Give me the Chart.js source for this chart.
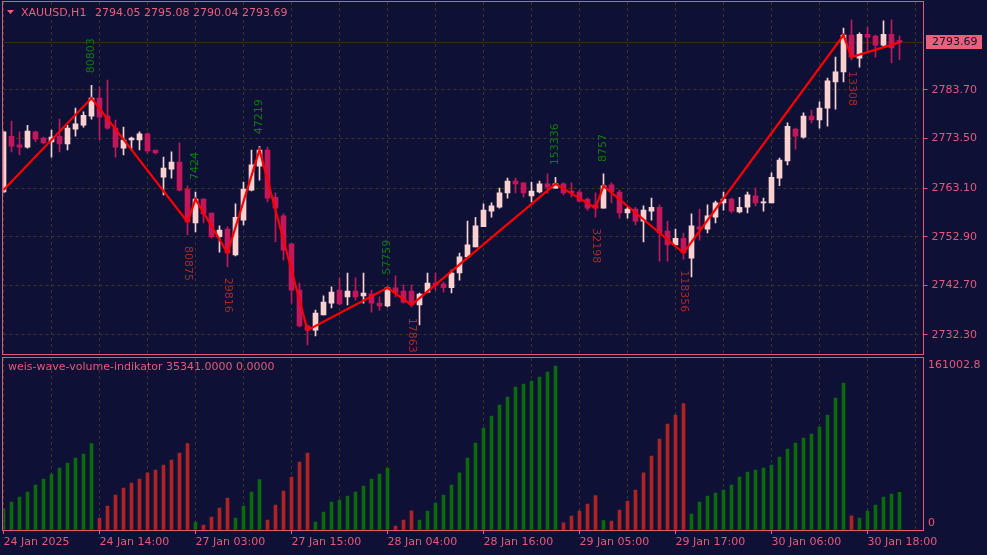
<!DOCTYPE html>
<html>
<head>
<meta charset="utf-8">
<script src="https://cdn.jsdelivr.net/npm/chart.js@4.4.1/dist/chart.umd.min.js"></script>
<style>
  html, body { margin: 0; padding: 0; background: #0e1036; overflow: hidden; }
  #graficoPreco { position: absolute; left: 0; top: 0; }
  #graficoVolume { position: absolute; left: 0; top: 356px; }
</style>
</head>
<body>
<canvas id="graficoPreco" width="987" height="356"></canvas>
<canvas id="graficoVolume" width="987" height="199"></canvas>
<script>
const simbolo = "XAUUSD,H1";
const rotulosTempo = ["24 Jan 2025", "24 Jan 14:00", "27 Jan 03:00", "27 Jan 15:00", "28 Jan 04:00",
    "28 Jan 16:00", "29 Jan 05:00", "29 Jan 17:00", "30 Jan 06:00", "30 Jan 18:00"];
const ticksPreco = [2783.70, 2773.50, 2763.10, 2752.90, 2742.70, 2732.30];
const precoMin = 2728.31, precoMax = 2802.16;
const volumeMax = 161002.8;

const abertura = [
    2762.3, 2774.0, 2772.2, 2771.7, 2774.9, 2773.6, 2772.8, 2774.0, 2772.4, 2775.5,
    2776.3, 2778.2, 2782.0, 2778.2, 2775.7, 2771.5, 2773.2, 2773.2, 2774.5, 2771.1,
    2765.4, 2767.1, 2768.6, 2762.9, 2755.8, 2760.8, 2757.9, 2752.9, 2754.5, 2749.1,
    2756.4, 2762.7, 2767.7, 2771.1, 2761.2, 2757.3, 2751.4, 2741.7, 2734.2, 2733.3,
    2736.5, 2739.0, 2741.7, 2740.3, 2741.5, 2740.5, 2740.9, 2739.0, 2738.4, 2742.2,
    2741.5, 2741.5, 2738.6, 2741.3, 2743.2, 2743.0, 2742.2, 2745.3, 2748.7, 2750.8,
    2755.0, 2758.3, 2759.1, 2762.1, 2764.6, 2764.2, 2761.5, 2762.3, 2764.0, 2763.1,
    2764.0, 2762.5, 2762.3, 2760.8, 2759.6, 2758.9, 2763.8, 2762.3, 2757.9, 2758.7,
    2756.2, 2758.3, 2759.1, 2754.1, 2751.2, 2752.6, 2748.4, 2755.0, 2754.5, 2757.0,
    2760.0, 2760.8, 2758.1, 2759.1, 2761.5, 2760.0, 2760.0, 2765.2, 2768.8, 2775.5,
    2773.8, 2778.2, 2777.4, 2779.9, 2785.4, 2787.5, 2795.2, 2790.4, 2795.4, 2795.0,
    2793.1, 2795.4, 2794.05];
const maxima = [
    2775.1, 2777.2, 2774.9, 2776.3, 2775.1, 2773.8, 2775.3, 2777.6, 2776.3, 2779.9,
    2779.1, 2784.7, 2784.3, 2785.8, 2777.4, 2775.9, 2773.8, 2774.9, 2774.7, 2771.1,
    2769.6, 2770.7, 2772.6, 2763.6, 2762.3, 2760.9, 2757.9, 2755.2, 2755.0, 2759.8,
    2764.4, 2771.1, 2771.9, 2771.7, 2762.1, 2757.7, 2751.4, 2743.2, 2734.4, 2737.5,
    2740.5, 2742.4, 2744.3, 2745.3, 2744.3, 2745.3, 2741.7, 2740.3, 2742.4, 2744.7,
    2742.8, 2742.8, 2741.1, 2745.3, 2745.3, 2743.4, 2745.9, 2749.5, 2756.2, 2757.0,
    2759.8, 2760.0, 2763.1, 2765.2, 2765.2, 2764.2, 2764.4, 2764.6, 2766.1, 2765.4,
    2764.2, 2764.2, 2762.7, 2761.0, 2762.1, 2766.1, 2764.2, 2762.7, 2759.1, 2759.1,
    2759.4, 2761.0, 2759.6, 2756.2, 2754.5, 2753.7, 2757.7, 2758.7, 2759.6, 2760.4,
    2762.3, 2761.0, 2761.2, 2762.3, 2763.1, 2761.0, 2766.3, 2769.4, 2776.8, 2775.7,
    2778.9, 2779.5, 2781.2, 2786.2, 2790.6, 2796.7, 2798.4, 2795.7, 2796.9, 2795.2,
    2798.2, 2798.4, 2795.08];
const minima = [
    2762.1, 2770.7, 2770.1, 2771.5, 2772.8, 2772.4, 2769.6, 2770.7, 2771.1, 2774.0,
    2775.9, 2777.6, 2773.2, 2775.5, 2769.6, 2770.1, 2771.1, 2771.1, 2770.5, 2770.3,
    2761.7, 2765.2, 2762.5, 2753.3, 2753.9, 2755.8, 2752.6, 2749.7, 2746.6, 2748.9,
    2755.4, 2762.5, 2764.8, 2760.2, 2751.8, 2748.0, 2739.0, 2734.0, 2730.2, 2732.1,
    2736.5, 2738.0, 2738.6, 2738.6, 2739.6, 2739.0, 2737.1, 2737.5, 2738.2, 2740.3,
    2739.0, 2738.2, 2734.4, 2741.3, 2741.7, 2741.3, 2741.1, 2743.8, 2748.7, 2750.8,
    2755.0, 2757.0, 2758.9, 2761.0, 2762.1, 2761.2, 2760.2, 2762.1, 2762.1, 2763.1,
    2761.7, 2761.2, 2760.2, 2758.5, 2757.0, 2758.9, 2760.0, 2756.8, 2756.8, 2755.4,
    2751.8, 2756.4, 2747.8, 2747.8, 2751.2, 2748.2, 2744.5, 2752.2, 2753.7, 2755.8,
    2758.5, 2757.9, 2757.9, 2757.9, 2759.4, 2758.3, 2760.0, 2763.6, 2768.0, 2771.3,
    2773.6, 2776.8, 2775.7, 2776.1, 2779.7, 2785.4, 2790.0, 2788.5, 2791.5, 2790.6,
    2792.7, 2789.4, 2790.04];
const fechamento = [
    2774.9, 2771.9, 2771.7, 2775.1, 2773.4, 2772.6, 2773.8, 2772.4, 2775.7, 2776.6,
    2778.4, 2782.0, 2778.0, 2775.7, 2771.7, 2773.2, 2773.6, 2774.5, 2770.9, 2770.5,
    2767.3, 2768.6, 2762.7, 2756.0, 2760.8, 2757.7, 2752.9, 2754.3, 2749.5, 2757.0,
    2762.9, 2768.0, 2771.1, 2761.0, 2758.9, 2750.1, 2741.7, 2734.2, 2733.3, 2736.9,
    2739.2, 2741.3, 2738.8, 2741.5, 2740.3, 2741.1, 2739.0, 2738.4, 2742.2, 2741.1,
    2739.2, 2738.6, 2740.9, 2743.2, 2742.8, 2742.2, 2745.3, 2748.7, 2751.2, 2755.2,
    2758.5, 2759.4, 2762.1, 2764.6, 2764.0, 2762.1, 2762.5, 2764.0, 2763.3, 2764.0,
    2762.1, 2762.1, 2760.4, 2758.9, 2758.9, 2763.6, 2762.3, 2757.9, 2758.7, 2756.2,
    2758.5, 2759.1, 2753.7, 2751.2, 2752.6, 2749.5, 2755.2, 2754.5, 2757.3, 2760.0,
    2760.8, 2758.3, 2759.1, 2761.7, 2760.0, 2760.2, 2765.4, 2769.0, 2776.1, 2774.0,
    2778.2, 2777.4, 2779.9, 2785.6, 2787.5, 2795.2, 2790.6, 2795.4, 2794.8, 2793.1,
    2795.4, 2792.5, 2793.69];

const volumeOnda = [
    19700, 26200, 30900, 35600, 42100, 47700, 52400, 58000, 62700, 67400, 71100, 80803,
    11200, 22500, 32800, 39300, 44000, 47700, 53400, 56200, 60800, 65500, 72100, 80875,
    7424,
    4700, 12200, 20600, 29816,
    11200, 22500, 35600, 47219,
    9400, 23400, 36500, 49600, 63600, 72100,
    7500, 16800, 26200, 28100, 31800, 35600, 41200, 47700, 52400, 57759,
    3700, 9400, 17863,
    9400, 17800, 25300, 32800, 42100, 53400, 67400, 81400, 95500, 106700, 117000, 124500,
    133800, 136700, 139500, 143200, 147900, 153336,
    6600, 13100, 17800, 24300, 32198,
    8757,
    8400, 18700, 27100, 37400, 53400, 69300, 85200, 99200, 107600, 118356,
    15000, 26200, 31800, 34600, 37400, 42100, 49600, 54300, 56200, 58000, 60800, 68300,
    75800, 81400, 86100, 89900, 96400, 107600, 123600, 137600,
    13308,
    11200, 17800, 23400, 30900, 33700, 35341];

const zigzagIndice = [0, 11, 23, 24, 28, 32, 38, 48, 51, 69, 74, 75, 85, 105, 106, 112];
const zigzagPreco = [2762.7, 2782.0, 2756.0, 2760.8, 2749.5, 2771.1, 2733.3, 2742.2, 2738.6,
    2764.0, 2758.9, 2763.6, 2749.5, 2795.2, 2790.6, 2793.69];

const corFundo = "#0e1036";
const corTexto = "#e8587a";
const corBorda = "#e25877";
const corGrade = "#3b3526";
const corAlta = "#fad1d1";
const corBaixa = "#c2185b";
const corVolAlta = "#0b6b0b";
const corVolBaixa = "#b22222";
const fonte = "'DejaVu Sans'";

Chart.defaults.font.family = fonte;
Chart.defaults.font.size = 11;
Chart.defaults.color = corTexto;

const totalBarras = 116;
const rotulos = [];
for (let i = 0; i < totalBarras; i++) {
    rotulos.push(i % 12 === 0 && rotulosTempo[i / 12] ? rotulosTempo[i / 12] : "");
}

const ultimo = fechamento.length - 1;
const corCandle = fechamento.map((c, i) => c >= abertura[i] ? corAlta : corBaixa);
const pavios = minima.map((l, i) => [l, maxima[i]]);
const corpos = abertura.map((o, i) => [o, fechamento[i]]);

const linhaZigzag = new Array(totalBarras).fill(null);
zigzagIndice.forEach((idx, k) => { linhaZigzag[idx] = zigzagPreco[k]; });

const ondaSobe = [];
for (let k = 0; k < zigzagIndice.length - 1; k++) {
    const sobe = zigzagPreco[k + 1] > zigzagPreco[k];
    const inicio = k === 0 ? zigzagIndice[0] : zigzagIndice[k] + 1;
    for (let i = inicio; i <= zigzagIndice[k + 1]; i++) ondaSobe[i] = sobe;
}
const corVolume = volumeOnda.map((v, i) => ondaSobe[i] ? corVolAlta : corVolBaixa);

function zeraMargens(scale) {
    scale.paddingLeft = 0;
    scale.paddingRight = 0;
    scale.paddingTop = 0;
    scale.paddingBottom = 0;
}

function eixoX(mostrarRotulos) {
    return {
        type: "category",
        offset: false,
        grid: {
            offset: false,
            color: (ctx) => ctx.index % 6 === 0 ? corGrade : "rgba(0,0,0,0)",
            drawTicks: mostrarRotulos,
            tickLength: 4,
            tickColor: (ctx) => ctx.index % 12 === 0 ? corBorda : "rgba(0,0,0,0)"
        },
        border: { display: false, dash: [3, 3] },
        ticks: {
            display: mostrarRotulos,
            autoSkip: false,
            maxRotation: 0,
            minRotation: 0,
            align: "start",
            padding: 2,
            color: corTexto,
            callback: (v, i) => rotulos[i]
        },
        afterFit: (scale) => {
            scale.height = mostrarRotulos ? 25 : 0;
            zeraMargens(scale);
        }
    };
}

const moldura = {
    id: "moldura",
    afterDraw(chart) {
        const { ctx, chartArea: a } = chart;
        ctx.save();
        ctx.strokeStyle = corBorda;
        ctx.lineWidth = 1;
        const l = Math.floor(a.left) - 0.5, r = Math.floor(a.right) + 0.5;
        const t = Math.floor(a.top) - 0.5, b = Math.ceil(a.bottom) + 0.5;
        ctx.strokeRect(l, t, r - l, b - t);
        ctx.restore();
    }
};

const linhaPreco = {
    id: "linhaPreco",
    beforeDatasetsDraw(chart) {
        const { ctx, chartArea: a, scales } = chart;
        const y = Math.round(scales.y.getPixelForValue(fechamento[ultimo])) + 0.5;
        ctx.save();
        ctx.strokeStyle = "#3e2e10";
        ctx.beginPath();
        ctx.moveTo(a.left, y);
        ctx.lineTo(a.right, y);
        ctx.stroke();
        ctx.restore();
    },
    afterDraw(chart) {
        const { ctx, chartArea: a, scales } = chart;
        const y = Math.round(scales.y.getPixelForValue(fechamento[ultimo]));
        ctx.save();
        ctx.fillStyle = "#e8607a";
        ctx.fillRect(Math.round(a.right) + 2, y - 7, 56, 14);
        ctx.fillStyle = corFundo;
        ctx.font = "11px " + fonte;
        ctx.textBaseline = "middle";
        ctx.fillText(fechamento[ultimo].toFixed(2), Math.round(a.right) + 8, y + 0.5);

        ctx.fillStyle = "#e8607a";
        ctx.beginPath();
        ctx.moveTo(7, 10);
        ctx.lineTo(14, 10);
        ctx.lineTo(10.5, 14);
        ctx.closePath();
        ctx.fill();
        ctx.fillText(simbolo, 21, 13);
        const valores = [abertura[ultimo], maxima[ultimo], minima[ultimo], fechamento[ultimo]];
        ctx.fillText(valores.map(v => v.toFixed(2)).join(" "), 95, 13);
        ctx.restore();
    }
};

const rotulosZigzag = {
    id: "rotulosZigzag",
    afterDatasetsDraw(chart) {
        const { ctx, chartArea: a, scales } = chart;
        ctx.save();
        ctx.font = "11px " + fonte;
        ctx.textBaseline = "middle";
        ctx.textAlign = "left";
        for (let k = 1; k < zigzagIndice.length - 1; k++) {
            const i = zigzagIndice[k];
            const texto = String(volumeOnda[i]);
            const w = ctx.measureText(texto).width;
            const x = scales.x.getPixelForValue(i);
            const topo = zigzagPreco[k] > zigzagPreco[k - 1];
            if (topo) {
                const y = scales.y.getPixelForValue(maxima[i]) - 12;
                if (y - w < a.top) continue;
                ctx.save();
                ctx.translate(x, y);
                ctx.rotate(-Math.PI / 2);
                ctx.fillStyle = "#127a12";
                ctx.fillText(texto, 0, 0);
                ctx.restore();
            } else {
                const y = scales.y.getPixelForValue(minima[i]) + 11;
                if (y + w > a.bottom) continue;
                ctx.save();
                ctx.translate(x, y);
                ctx.rotate(Math.PI / 2);
                ctx.fillStyle = "#a82a2a";
                ctx.fillText(texto, 0, 0);
                ctx.restore();
            }
        }
        ctx.restore();
    }
};

const graficoPreco = new Chart(document.getElementById("graficoPreco"), {
    type: "bar",
    data: {
        labels: rotulos,
        datasets: [{
            type: "line",
            label: "zigzag",
            data: linhaZigzag,
            borderColor: "#ff0000",
            borderWidth: 2.2,
            pointRadius: 0,
            tension: 0,
            spanGaps: true,
            order: 0
        }, {
            label: "corpos",
            data: corpos,
            backgroundColor: corCandle,
            barThickness: 5,
            minBarLength: 1,
            grouped: false,
            clip: 0,
            order: 1
        }, {
            label: "pavios",
            data: pavios,
            backgroundColor: corCandle,
            barThickness: 1,
            grouped: false,
            clip: 0,
            order: 2
        }]
    },
    options: {
        responsive: false,
        animation: false,
        events: [],
        layout: { padding: { left: 3.5, top: 2, right: 0, bottom: 2 } },
        plugins: { legend: { display: false }, tooltip: { enabled: false } },
        scales: {
            x: eixoX(false),
            y: {
                type: "linear",
                position: "right",
                min: precoMin,
                max: precoMax,
                grid: { color: corGrade, tickLength: 4, tickColor: corBorda },
                border: { display: false, dash: [3, 3] },
                ticks: { padding: 4, color: corTexto, callback: (v) => Number(v).toFixed(2) },
                afterBuildTicks: (scale) => { scale.ticks = ticksPreco.map(v => ({ value: v })); },
                afterFit: (scale) => { scale.width = 63.5; zeraMargens(scale); }
            }
        }
    },
    plugins: [linhaPreco, rotulosZigzag, moldura]
});

const textosVolume = {
    id: "textosVolume",
    afterDraw(chart) {
        const { ctx, chartArea: a } = chart;
        ctx.save();
        ctx.font = "11px " + fonte;
        ctx.fillStyle = corTexto;
        ctx.textBaseline = "middle";
        ctx.fillText("weis-wave-volume-indikator " + volumeOnda[ultimo].toFixed(4) + " 0.0000", 8, 11);
        ctx.fillText(String(volumeMax), Math.round(a.right) + 4, a.top + 7);
        ctx.fillText("0", Math.round(a.right) + 4, a.bottom - 7);
        ctx.restore();
    }
};

const graficoVolume = new Chart(document.getElementById("graficoVolume"), {
    type: "bar",
    data: {
        labels: rotulos,
        datasets: [{
            label: "weis-wave-volume",
            data: volumeOnda,
            backgroundColor: corVolume,
            barThickness: 3,
            grouped: false,
            clip: 0
        }]
    },
    options: {
        responsive: false,
        animation: false,
        events: [],
        layout: { padding: { left: 3.5, top: 2, right: 0, bottom: 0 } },
        plugins: { legend: { display: false }, tooltip: { enabled: false } },
        scales: {
            x: eixoX(true),
            y: {
                type: "linear",
                position: "right",
                min: 0,
                max: volumeMax,
                grid: {
                    color: (ctx) => ctx.tick && ctx.tick.value === 0 ? "#5a3a1a" : "rgba(0,0,0,0)",
                    drawTicks: false
                },
                border: { display: false, dash: [3, 3] },
                ticks: { display: false },
                afterBuildTicks: (scale) => { scale.ticks = [{ value: 0 }]; },
                afterFit: (scale) => { scale.width = 63.5; zeraMargens(scale); }
            }
        }
    },
    plugins: [textosVolume, moldura]
});
</script>
</body>
</html>
